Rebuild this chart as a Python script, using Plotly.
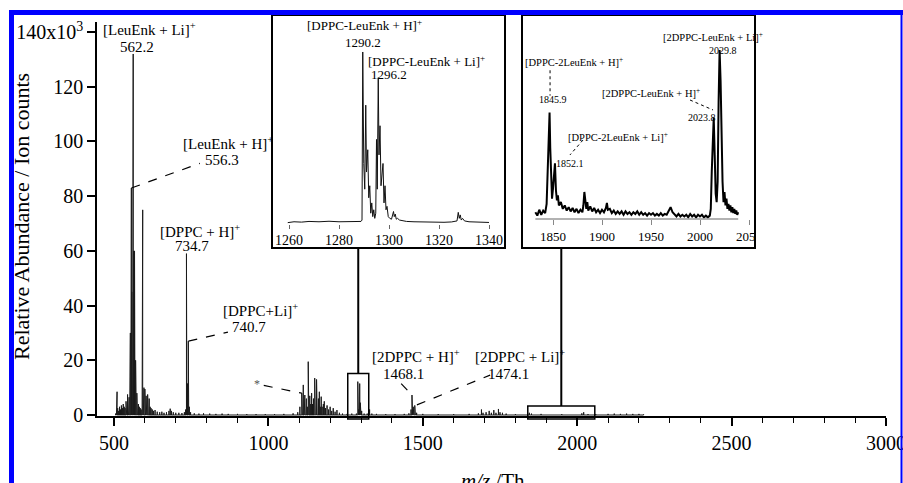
import plotly.graph_objects as go

W, H = 903, 483

# ---------------- data ----------------
# main spectrum: peak positions (m/z, Th) and intensities (x10^3 counts)
MAIN_MZ = [505, 508, 510, 512, 515, 518, 521, 524, 527, 530, 533, 536, 539, 541, 544, 547, 549, 551,
           553, 555, 556.3, 557.5, 559, 560.5, 562.2, 563.5, 565, 566.5, 568, 570, 572, 574, 576, 579,
           582, 585, 588, 591, 593, 595, 597, 600, 602, 604, 606, 609, 611, 614, 617, 620, 624, 628,
           633, 640, 648, 655, 662, 670, 678, 682, 686, 692, 700, 710, 720, 728, 732, 734.7, 736, 738,
           740.7, 742, 744, 748, 760, 775, 790, 810, 830, 850, 870, 900, 930, 960, 990, 1020, 1050,
           1080, 1095, 1102, 1108, 1110, 1113, 1116, 1118, 1121, 1123, 1126, 1129, 1131, 1134, 1137,
           1140, 1143, 1146, 1150, 1152, 1156, 1158, 1162, 1165, 1168, 1171, 1174, 1178, 1181, 1185,
           1190, 1195, 1200, 1205, 1210, 1216, 1222, 1230, 1240, 1255, 1270, 1285, 1289.5, 1290.7,
           1291.5, 1292.5, 1294, 1295, 1295.7, 1296.4, 1297.6, 1298.4, 1300, 1302, 1310, 1320, 1327.7,
           1335, 1350, 1380, 1410, 1440, 1455, 1462, 1465, 1467, 1469, 1471, 1474, 1476, 1480, 1500,
           1550, 1600, 1650, 1680, 1690, 1695, 1705, 1715, 1722, 1730, 1737, 1745, 1750, 1758, 1770,
           1800, 1845, 1852, 1883, 1950, 2015, 2021, 2035, 2060, 2100, 2120, 2140, 2160, 2180, 2200,
           2215]
MAIN_INT = [0.5, 1.5, 8.5, 2.5, 1.5, 3, 2, 3.5, 2.5, 4, 3, 2.5, 5, 3, 7.5, 5, 6.5, 10,
            30, 50, 83, 45, 25, 17, 132, 60, 50, 60, 21, 20, 12, 8, 6, 4,
            3, 2.5, 2, 3, 75, 8, 10, 9.5, 5, 7, 4, 7.5, 4, 6, 3, 2.5, 2, 1.5,
            1.8, 1.2, 1, 1.2, 0.8, 1, 1.5, 2.3, 1.5, 1, 0.8, 0.8, 0.7, 1, 2, 59, 14, 11.5,
            27, 8, 3, 1, 0.6, 0.5, 0.6, 0.5, 0.4, 0.5, 0.4, 0.4, 0.3, 0.3, 0.3, 0.3, 0.4,
            0.6, 1, 3, 8, 6, 11, 5, 7.3, 4, 6, 3, 19.5, 5, 7, 4,
            8, 4, 6, 13.5, 5, 13, 4, 6, 8.5, 3, 6.7, 3, 4, 5, 2.5,
            3.5, 2, 3, 1.5, 2.5, 1.2, 1.8, 0.8, 0.5, 0.4, 0.5, 0.5, 12.2, 8.5,
            5, 2, 1, 6, 11.5, 7.5, 4.5, 3, 1, 1.5, 0.5, 0.5, 2,
            0.5, 0.4, 0.3, 0.3, 0.4, 0.6, 2, 7.3, 4, 3, 2.5, 3.5, 1.5, 0.8, 0.4,
            0.3, 0.3, 0.4, 0.6, 2, 0.8, 1, 1.5, 0.8, 1.8, 0.8, 2.2, 1, 0.8, 0.5,
            0.3, 0.8, 0.5, 0.4, 0.3, 0.6, 1.0, 0.3, 0.3, 0.4, 0.5, 0.4, 0.5, 0.4, 0.4,
            0.2]

# inset 1 profile (relative intensity, %)
INSET1_MZ = [1259.5, 1262, 1265, 1268, 1272, 1276, 1280, 1284, 1287, 1288.8, 1289.2, 1289.5,
             1289.9, 1290.3, 1290.7, 1291.0, 1291.5, 1291.9, 1292.3, 1292.7, 1293.1, 1293.5,
             1293.9, 1294.3, 1294.7, 1295.0, 1295.3, 1295.7, 1296.0, 1296.4, 1296.8, 1297.2,
             1297.6, 1298.0, 1298.4, 1298.8, 1299.2, 1299.7, 1300.3, 1301.0, 1301.5, 1301.8,
             1302.1, 1302.5, 1302.9, 1303.4, 1304.2, 1305.5, 1307, 1310, 1314, 1318, 1322, 1325,
             1327.2, 1327.7, 1328.1, 1328.5, 1328.9, 1329.4, 1330.2, 1332, 1335, 1338, 1340]
INSET1_INT = [0.5, 1.0, 0.8, 1.2, 1.0, 1.3, 1.0, 1.2, 1.0, 1.2, 2, 100,
              35, 20, 69, 30, 43, 15, 22, 6, 12, 4,
              8, 3, 6, 49, 20, 85, 40, 57, 22, 30,
              35, 12, 22, 8, 10, 4, 3, 2.5, 5, 7,
              4, 5.5, 2.5, 3, 2, 1.5, 1.2, 1.0, 0.8, 1.0, 0.7, 0.9,
              1.5, 6.5, 3, 5, 2, 3, 1.5, 1.0, 0.8, 0.6, 0.6]
INSET1_TICKS = [1260, 1280, 1300, 1320, 1340]

# inset 2 profile (relative intensity, %)
INSET2_MZ = [1832, 1834, 1836, 1838, 1840, 1842,
             1843.5, 1845, 1846, 1846.5, 1847.2, 1848, 1849, 1850, 1851, 1852, 1853, 1854, 1855, 1856,
             1858, 1860, 1862, 1864, 1866, 1868, 1870, 1872, 1874, 1876, 1878, 1880,
             1881, 1882, 1883, 1884, 1885, 1886,
             1888, 1890, 1892, 1894, 1896, 1898, 1900, 1902, 1904,
             1905, 1906,
             1908, 1910, 1912, 1914, 1916, 1918, 1920, 1922, 1924, 1926,
             1928, 1930, 1932, 1934, 1936, 1938, 1940, 1942, 1944, 1946,
             1948, 1950, 1952, 1954, 1956, 1958, 1960, 1962, 1964, 1966,
             1968, 1970, 1972, 1974, 1976, 1978, 1980, 1982, 1984, 1986,
             1988, 1990, 1992, 1994, 1996, 1998, 2000, 2002, 2004, 2006,
             2008, 2010,
             2011, 2012, 2013, 2014, 2015, 2016, 2017, 2018, 2019, 2020,
             2021, 2022, 2023, 2024, 2025, 2026, 2027, 2028, 2029, 2030,
             2031, 2032, 2033, 2034, 2035, 2036, 2037, 2038, 2039]
INSET2_INT = [4, 2, 5.5, 2.5, 5, 3.5,
              9, 40, 58, 63, 42, 20, 12, 18, 26, 33, 17, 11, 14, 8,
              10, 6, 8, 5, 7, 4.5, 6.5, 4, 6, 3.5, 5.5, 4,
              8, 16, 11, 6, 10, 5,
              7.5, 4.5, 6.5, 4, 5.5, 3.5, 5.5, 4, 6.5,
              9.5, 5.5,
              6, 3.5, 5, 3, 4.5, 3, 4.5, 2.5, 4.5, 3,
              4, 2.5, 4, 3, 4.5, 2.5, 4, 2.5, 3.5, 2,
              3.5, 2.5, 3.5, 2, 3, 2, 3.5, 2, 3, 2.5,
              4.5, 7, 4, 3, 1.5, 3, 1.5, 2.5, 1.5, 2.5,
              1, 3, 1.5, 2.5, 1, 2.5, 1.5, 2.5, 1, 2,
              1, 2,
              6, 28, 48, 60, 38, 15, 10, 22, 70, 100,
              82, 35, 22, 10, 16, 8, 12, 6, 9, 5,
              8, 4, 7, 3.5, 6, 3, 5, 2.5, 4]
INSET2_TICKS = [1850, 1900, 1950, 2000, 2050]

MAIN_YTICKS = [0, 20, 40, 60, 80, 100, 120, 140]
MAIN_YTICKTEXT = ["0", "20", "40", "60", "80", "100", "120", "140x10<sup>3</sup>"]

ZOOM1_MZ = (1257, 1325)
ZOOM1_Y = (-1.5, 15.2)
ZOOM2_MZ = (1840, 2057)
ZOOM2_Y = (-1.5, 3.3)

assert len(MAIN_MZ) == len(MAIN_INT)
assert len(INSET1_MZ) == len(INSET1_INT)
assert len(INSET2_MZ) == len(INSET2_INT)

# ---------------- geometry helpers ----------------
def px(x):
    return x / W


def py(y):
    return (H - y) / H


MAIN_XPX = (97, 886)
MAIN_YPX = (416, 22)   # bottom, top
MAIN_XR = [445, 3000]
MAIN_YR = [-0.366, 143.69]


def mx(m):
    f = (m - MAIN_XR[0]) / (MAIN_XR[1] - MAIN_XR[0])
    return px(MAIN_XPX[0] + f * (MAIN_XPX[1] - MAIN_XPX[0]))


def my(v):
    f = (v - MAIN_YR[0]) / (MAIN_YR[1] - MAIN_YR[0])
    return py(MAIN_YPX[0] - f * (MAIN_YPX[0] - MAIN_YPX[1]))


FONT = "Liberation Serif, Times New Roman, serif"

# stick representation of main spectrum
sx, sy = [], []
for m, h in zip(MAIN_MZ, MAIN_INT):
    sx += [m, m, m]
    sy += [0, h, 0]

fig = go.Figure()
fig.add_trace(go.Scatter(x=sx, y=sy, mode="lines", line=dict(color="#1a1a1a", width=1),
                         hoverinfo="skip", xaxis="x", yaxis="y"))
fig.add_trace(go.Scatter(x=INSET1_MZ, y=INSET1_INT, mode="lines",
                         line=dict(color="#111", width=1), hoverinfo="skip",
                         xaxis="x2", yaxis="y2"))
fig.add_trace(go.Scatter(x=INSET2_MZ, y=INSET2_INT, mode="lines",
                         line=dict(color="black", width=2), hoverinfo="skip",
                         xaxis="x3", yaxis="y3"))

# ---------------- shapes ----------------
shapes = []


def dline(x0, y0, x1, y1, xref="x", yref="y", dash="dash", width=1.2, color="black"):
    shapes.append(dict(type="line", x0=x0, y0=y0, x1=x1, y1=y1, xref=xref, yref=yref,
                       line=dict(color=color, width=width, dash=dash)))


# main leader lines (data coordinates)
dline(556.3, 83, 778, 92)
dline(741, 27, 869, 30.3)
dline(985, 10.8, 1108, 8)
dline(1430, 11.5, 1465, 7.3, dash="dash")
dline(1481, 3.7, 1718, 14.6)

# inset 2 dotted leaders
dline(1847, 88, 1847, 73, "x3", "y3", dash="dot", width=1)
dline(1880.6, 46.7, 1867.3, 37.9, "x3", "y3", dash="dot", width=1)
dline(1989.8, 70.4, 2013.3, 64.5, "x3", "y3", dash="dot", width=1)

# zoom rectangles on main axis
for (a, b), (c, d) in [(ZOOM1_MZ, ZOOM1_Y), (ZOOM2_MZ, ZOOM2_Y)]:
    shapes.append(dict(type="rect", xref="paper", yref="paper", x0=mx(a), x1=mx(b),
                       y0=my(c), y1=my(d), line=dict(color="black", width=1.5)))

# connectors from zoom boxes to insets
c1 = (ZOOM1_MZ[0] + ZOOM1_MZ[1]) / 2
c2 = (ZOOM2_MZ[0] + ZOOM2_MZ[1]) / 2
shapes.append(dict(type="line", xref="paper", yref="paper", x0=mx(c1), x1=mx(c1),
                   y0=my(ZOOM1_Y[1]), y1=py(248), line=dict(color="black", width=2)))
shapes.append(dict(type="line", xref="paper", yref="paper", x0=mx(c2), x1=mx(c2),
                   y0=my(ZOOM2_Y[1]), y1=py(248), line=dict(color="black", width=2)))

# inset 2 axis line (gray)
I2_XR = [1818.37, 2056.12]
I2_PX = (522, 755)


def i2x(m):
    return px(I2_PX[0] + (m - I2_XR[0]) / (I2_XR[1] - I2_XR[0]) * (I2_PX[1] - I2_PX[0]))


shapes.append(dict(type="line", xref="paper", yref="paper", x0=i2x(1832), x1=i2x(2039),
                   y0=py(219), y1=py(219), line=dict(color="#999", width=1.5)))

# white mask clipping "2050" at the inset border
shapes.append(dict(type="rect", xref="paper", yref="paper", x0=px(756), x1=px(772),
                   y0=py(246), y1=py(224), fillcolor="white", line=dict(width=0), layer="above"))

# inset boxes
for x0, x1 in [(272, 505), (522, 755)]:
    shapes.append(dict(type="rect", xref="paper", yref="paper", x0=px(x0), x1=px(x1),
                       y0=py(248), y1=py(15), line=dict(color="black", width=2), layer="above"))

# blue frame
BLUE = "#0000ff"
shapes.append(dict(type="rect", xref="paper", yref="paper", x0=px(9), x1=px(14),
                   y0=py(483), y1=py(10), fillcolor=BLUE, line=dict(width=0), layer="above"))
shapes.append(dict(type="rect", xref="paper", yref="paper", x0=px(9), x1=px(903),
                   y0=py(15), y1=py(10), fillcolor=BLUE, line=dict(width=0), layer="above"))
shapes.append(dict(type="rect", xref="paper", yref="paper", x0=px(900.5), x1=px(902.5),
                   y0=py(483), y1=py(10), fillcolor=BLUE, line=dict(width=0), layer="above"))

# ---------------- annotations ----------------
ann = []


def lab(text, x, y, size=15, xanchor="left", color="black", **kw):
    ann.append(dict(text=text, x=px(x), y=py(y), xref="paper", yref="paper",
                    xanchor=xanchor, yanchor="middle", showarrow=False,
                    font=dict(family=FONT, size=size, color=color), **kw))


# main plot labels
lab("[LeuEnk + Li]<sup>+</sup>", 101, 29)
lab("562.2", 118, 47)
lab("[LeuEnk + H]<sup>+</sup>", 181, 143)
lab("556.3", 203, 160)
lab("[DPPC + H]<sup>+</sup>", 158, 231)
lab("734.7", 173, 246)
lab("[DPPC+Li]<sup>+</sup>", 221, 310)
lab("740.7", 230, 327)
lab("*", 257, 384, size=12, xanchor="center", color="#555")
lab("[2DPPC + H]<sup>+</sup>", 370, 356)
lab("1468.1", 381, 374)
lab("[2DPPC + Li]<sup>+</sup>", 473, 356)
lab("1474.1", 486, 374)

# inset 1 labels
lab("[DPPC-LeuEnk + H]<sup>+</sup>", 305, 25, size=13)
lab("1290.2", 343, 42, size=13)
lab("[DPPC-LeuEnk + Li]<sup>+</sup>", 366, 61, size=13)
lab("1296.2", 369, 75, size=13)

# inset 2 labels
lab("[DPPC-2LeuEnk + H]<sup>+</sup>", 523, 62, size=10.5)
lab("1845.9", 537, 100, size=10)
lab("[DPPC-2LeuEnk + Li]<sup>+</sup>", 566, 136, size=10.5)
lab("1852.1", 554, 163, size=10)
lab("[2DPPC-LeuEnk + H]<sup>+</sup>", 600, 92, size=10.5)
lab("2023.8", 686, 117, size=10)
lab("[2DPPC-LeuEnk + Li]<sup>+</sup>", 661, 37, size=10.5)
lab("2029.8", 707, 51, size=10)

# axis titles
ann.append(dict(text="Relative Abundance / Ion counts", x=px(21), y=py(217), xref="paper",
                yref="paper", textangle=-90, showarrow=False, xanchor="center",
                yanchor="middle", font=dict(family=FONT, size=22, color="black")))
ann.append(dict(text="<i>m/z</i> /Th", x=px(493), y=py(481), xref="paper", yref="paper",
                showarrow=False, xanchor="center", yanchor="middle",
                font=dict(family=FONT, size=21, color="black")))

# ---------------- layout ----------------
fig.update_layout(
    width=W, height=H,
    autosize=False,
    margin=dict(l=0, r=0, t=0, b=0, pad=0),
    paper_bgcolor="white", plot_bgcolor="rgba(0,0,0,0)",
    showlegend=False,
    font=dict(family=FONT, color="black"),
    shapes=shapes,
    annotations=ann,
    xaxis=dict(domain=[px(MAIN_XPX[0]), px(MAIN_XPX[1])], range=MAIN_XR, anchor="y",
               automargin=False, ticklabeloverflow="allow",
               showline=True, linecolor="black", linewidth=1.5, showgrid=False, zeroline=False,
               ticks="outside", ticklen=8, tickwidth=1.5, tickcolor="black",
               tick0=0, dtick=500, tickfont=dict(size=20, family=FONT),
               minor=dict(dtick=100, ticks="outside", ticklen=5, tickwidth=1,
                          tickcolor="black", showgrid=False)),
    yaxis=dict(domain=[py(MAIN_YPX[0]), py(MAIN_YPX[1])], range=MAIN_YR, anchor="x",
               automargin=False,
               showline=True, linecolor="black", linewidth=1.5, showgrid=False, zeroline=False,
               ticks="outside", ticklen=8, tickwidth=1.5, tickcolor="black",
               tickmode="array", tickvals=MAIN_YTICKS, ticktext=MAIN_YTICKTEXT,
               tickfont=dict(size=20, family=FONT)),
    xaxis2=dict(domain=[px(272), px(505)], range=[1253.2, 1346.4], anchor="free",
                automargin=False,
                position=py(223.5), showline=False, showgrid=False, zeroline=False,
                ticks="outside", ticklen=4, tickwidth=1, tickcolor="#666",
                tickmode="array", tickvals=INSET1_TICKS,
                tickfont=dict(size=14, family=FONT)),
    yaxis2=dict(domain=[py(248), py(15)], range=[-14.29, 121.57], anchor="x2", visible=False,
                automargin=False),
    xaxis3=dict(domain=[px(I2_PX[0]), px(I2_PX[1])], range=I2_XR, anchor="free",
                automargin=False,
                position=py(219), showline=False, showgrid=False, zeroline=False,
                ticks="outside", ticklen=5, tickwidth=1, tickcolor="#888",
                tickmode="array", tickvals=INSET2_TICKS,
                tickfont=dict(size=13, family=FONT)),
    yaxis3=dict(domain=[py(248), py(15)], range=[-17.16, 120.7], anchor="x3", visible=False,
                automargin=False),
)

fig.write_html(
    "out.html",
    config=dict(displayModeBar=False),
    post_script="document.body.style.margin='0';document.body.style.overflow='hidden';",
)
